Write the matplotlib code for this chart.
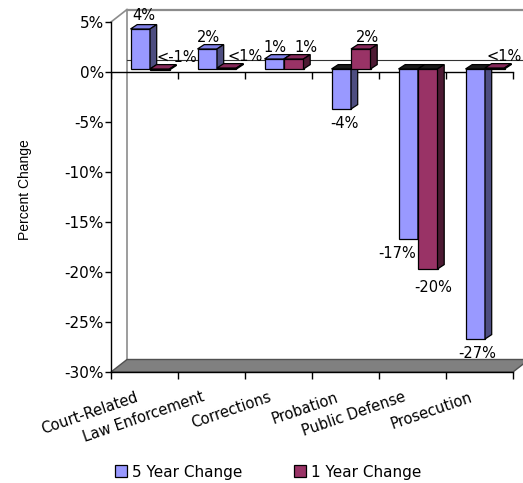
import matplotlib
matplotlib.use("Agg")
import matplotlib.pyplot as plt
from matplotlib.patches import Polygon, Patch
import numpy as np

# ---------------- data ----------------
categories = ["Court-Related", "Law Enforcement", "Corrections",
              "Probation", "Public Defense", "Prosecution"]
five_year = [4, 2, 1, -4, -17, -27]
one_year = [-0.1, 0.1, 1, 2, -20, 0.1]
five_labels = ["4%", "2%", "1%", "-4%", "-17%", "-27%"]
one_labels = ["<-1%", "<1%", "1%", "2%", "-20%", "<1%"]
series_names = ["5 Year Change", "1 Year Change"]
y_ticks = [5, 0, -5, -10, -15, -20, -25, -30]

# ---------------- style ----------------
W, H = 523, 483
PX_X = 67.0   # pixels per category
PX_Y = 10.0   # pixels per percent
WALL_DX, WALL_DY = 16 / PX_X, 12.5 / PX_Y
BAR_FX, BAR_FY = 5.5 / PX_X, 3 / PX_Y
BAR_DX, BAR_DY = 6.7 / PX_X, 4.4 / PX_Y
BAR_W = 19.5 / PX_X

cols_front = ["#9999FF", "#993366"]
cols_top = ["#8080E6", "#86295A"]
cols_side = ["#4D4D80", "#4D1A33"]
col_neg_top = "#1a1a1a"

# label nudges (pixels)
five_nudge = [(0, 2), (-2, 0), (-3, 0), (0, 0), (-14, 0), (-1, 0)]
one_nudge = [(14, 0), (15, 0), (9, 0), (3, 0), (2, -4), (6, 0)]

fig = plt.figure(figsize=(W / 100, H / 100), dpi=100)
ax_left, ax_bottom_px, ax_right = 111, 372, 523
ax_top_px = 8
ax = fig.add_axes([ax_left / W, (H - ax_bottom_px) / H,
                   (ax_right - ax_left) / W, (ax_bottom_px - ax_top_px) / H])
xmax = (ax_right - ax_left) / PX_X
ymax = -30 + (ax_bottom_px - ax_top_px) / PX_Y
ax.set_xlim(0, xmax)
ax.set_ylim(-30, ymax)
for s in ["top", "right", "bottom"]:
    ax.spines[s].set_visible(False)
ax.spines["left"].set_bounds(-30, 5)
ax.spines["left"].set_linewidth(1.0)
ax.set_yticks(y_ticks)
ax.set_yticklabels([f"{t}%" for t in y_ticks])
ax.tick_params(axis="y", direction="out", length=4, width=1.0, labelsize=11, pad=1)
ax.set_xticks(range(len(categories) + 1))
ax.set_xticklabels([])
ax.tick_params(axis="x", direction="out", length=5, width=1.0)
for lab in ax.get_yticklabels():
    lab.set_fontfamily("DejaVu Sans")

gray = "#8c8c8c"
# back wall and side wall edges
ax.plot([WALL_DX, WALL_DX], [-30 + WALL_DY, 5 + WALL_DY], color=gray, lw=1.2, clip_on=False, zorder=1)
ax.plot([WALL_DX, xmax], [5 + WALL_DY, 5 + WALL_DY], color=gray, lw=1.6, clip_on=False, zorder=1)
ax.plot([0, WALL_DX], [5, 5 + WALL_DY], color=gray, lw=1.2, clip_on=False, zorder=1)
# back-wall zero gridline
ax.plot([WALL_DX, xmax], [WALL_DY, WALL_DY], color="#333333", lw=0.8, clip_on=False, zorder=1)

# floor
n = len(categories)
floor = Polygon([(0, -30), (n, -30), (n + WALL_DX, -30 + WALL_DY), (WALL_DX, -30 + WALL_DY)],
                closed=True, facecolor="#808080", edgecolor="#505050", lw=1.0,
                clip_on=False, zorder=2)
ax.add_patch(floor)
ax.plot([0, n], [-30, -30], color="black", lw=1.0, zorder=3, clip_on=False)

# front zero line with ticks
ax.plot([0, n], [0, 0], color="black", lw=1.0, zorder=3)
ax.vlines(range(n + 1), -0.7, 0, color="black", lw=1.0, zorder=3)

# bars
x = np.arange(n) + 0.5 + BAR_FX
for si, (vals, offs) in enumerate([(five_year, -BAR_W / 2), (one_year, BAR_W / 2)]):
    bars = ax.bar(x + offs, vals, width=BAR_W, bottom=BAR_FY, color=cols_front[si],
                  edgecolor="black", linewidth=0.9, zorder=5 + si * 3)
    for b, v in zip(bars, vals):
        x0, w = b.get_x(), b.get_width()
        y_lo, y_hi = BAR_FY + min(v, 0), BAR_FY + max(v, 0)
        topc = cols_top[si] if v > -0.5 else col_neg_top
        top = Polygon([(x0, y_hi), (x0 + w, y_hi), (x0 + w + BAR_DX, y_hi + BAR_DY),
                       (x0 + BAR_DX, y_hi + BAR_DY)], closed=True, facecolor=topc,
                      edgecolor="black", lw=0.9, zorder=5 + si * 3 + 1)
        side = Polygon([(x0 + w, y_lo), (x0 + w + BAR_DX, y_lo + BAR_DY),
                        (x0 + w + BAR_DX, y_hi + BAR_DY), (x0 + w, y_hi)], closed=True,
                       facecolor=cols_side[si], edgecolor="black", lw=0.9,
                       zorder=5 + si * 3 + 1)
        ax.add_patch(top)
        ax.add_patch(side)

# data labels
for si, (vals, labels, nudges, offs) in enumerate([
        (five_year, five_labels, five_nudge, -BAR_W / 2),
        (one_year, one_labels, one_nudge, BAR_W / 2)]):
    for xi, v, lab, (nx, ny) in zip(x + offs, vals, labels, nudges):
        cx = xi + BAR_DX / 2 + nx / PX_X
        if v > -0.5:
            cy = BAR_FY + max(v, 0) + BAR_DY + 0.75 + ny / PX_Y
        else:
            cy = BAR_FY + v - 1.5 + ny / PX_Y
        ax.text(cx, cy, lab, ha="center", va="center", fontsize=10.5,
                family="DejaVu Sans", zorder=20, clip_on=False)

# category labels
for i, c in enumerate(categories):
    ax.text(i + 0.5 - 6 / PX_X, -30 - 2.9, c, rotation=19, rotation_mode="anchor",
            ha="right", va="baseline", fontsize=10.5, family="DejaVu Sans", clip_on=False)

# y label
fig.text(25 / W, 1 - 190 / H, "Percent Change", rotation=90, ha="center", va="center",
         fontsize=10, family="Liberation Sans")

# legend
handles = [Patch(facecolor=cols_front[i], edgecolor="black", lw=0.9) for i in range(2)]
fig.legend(handles, series_names, loc="center", bbox_to_anchor=(268 / W, 1 - 472 / H),
           ncol=2, frameon=False, fontsize=11, handlelength=0.8, handleheight=0.8,
           handletextpad=0.3, columnspacing=3.4, prop={"family": "DejaVu Sans", "size": 11})

fig.savefig("out.png", dpi=100)
